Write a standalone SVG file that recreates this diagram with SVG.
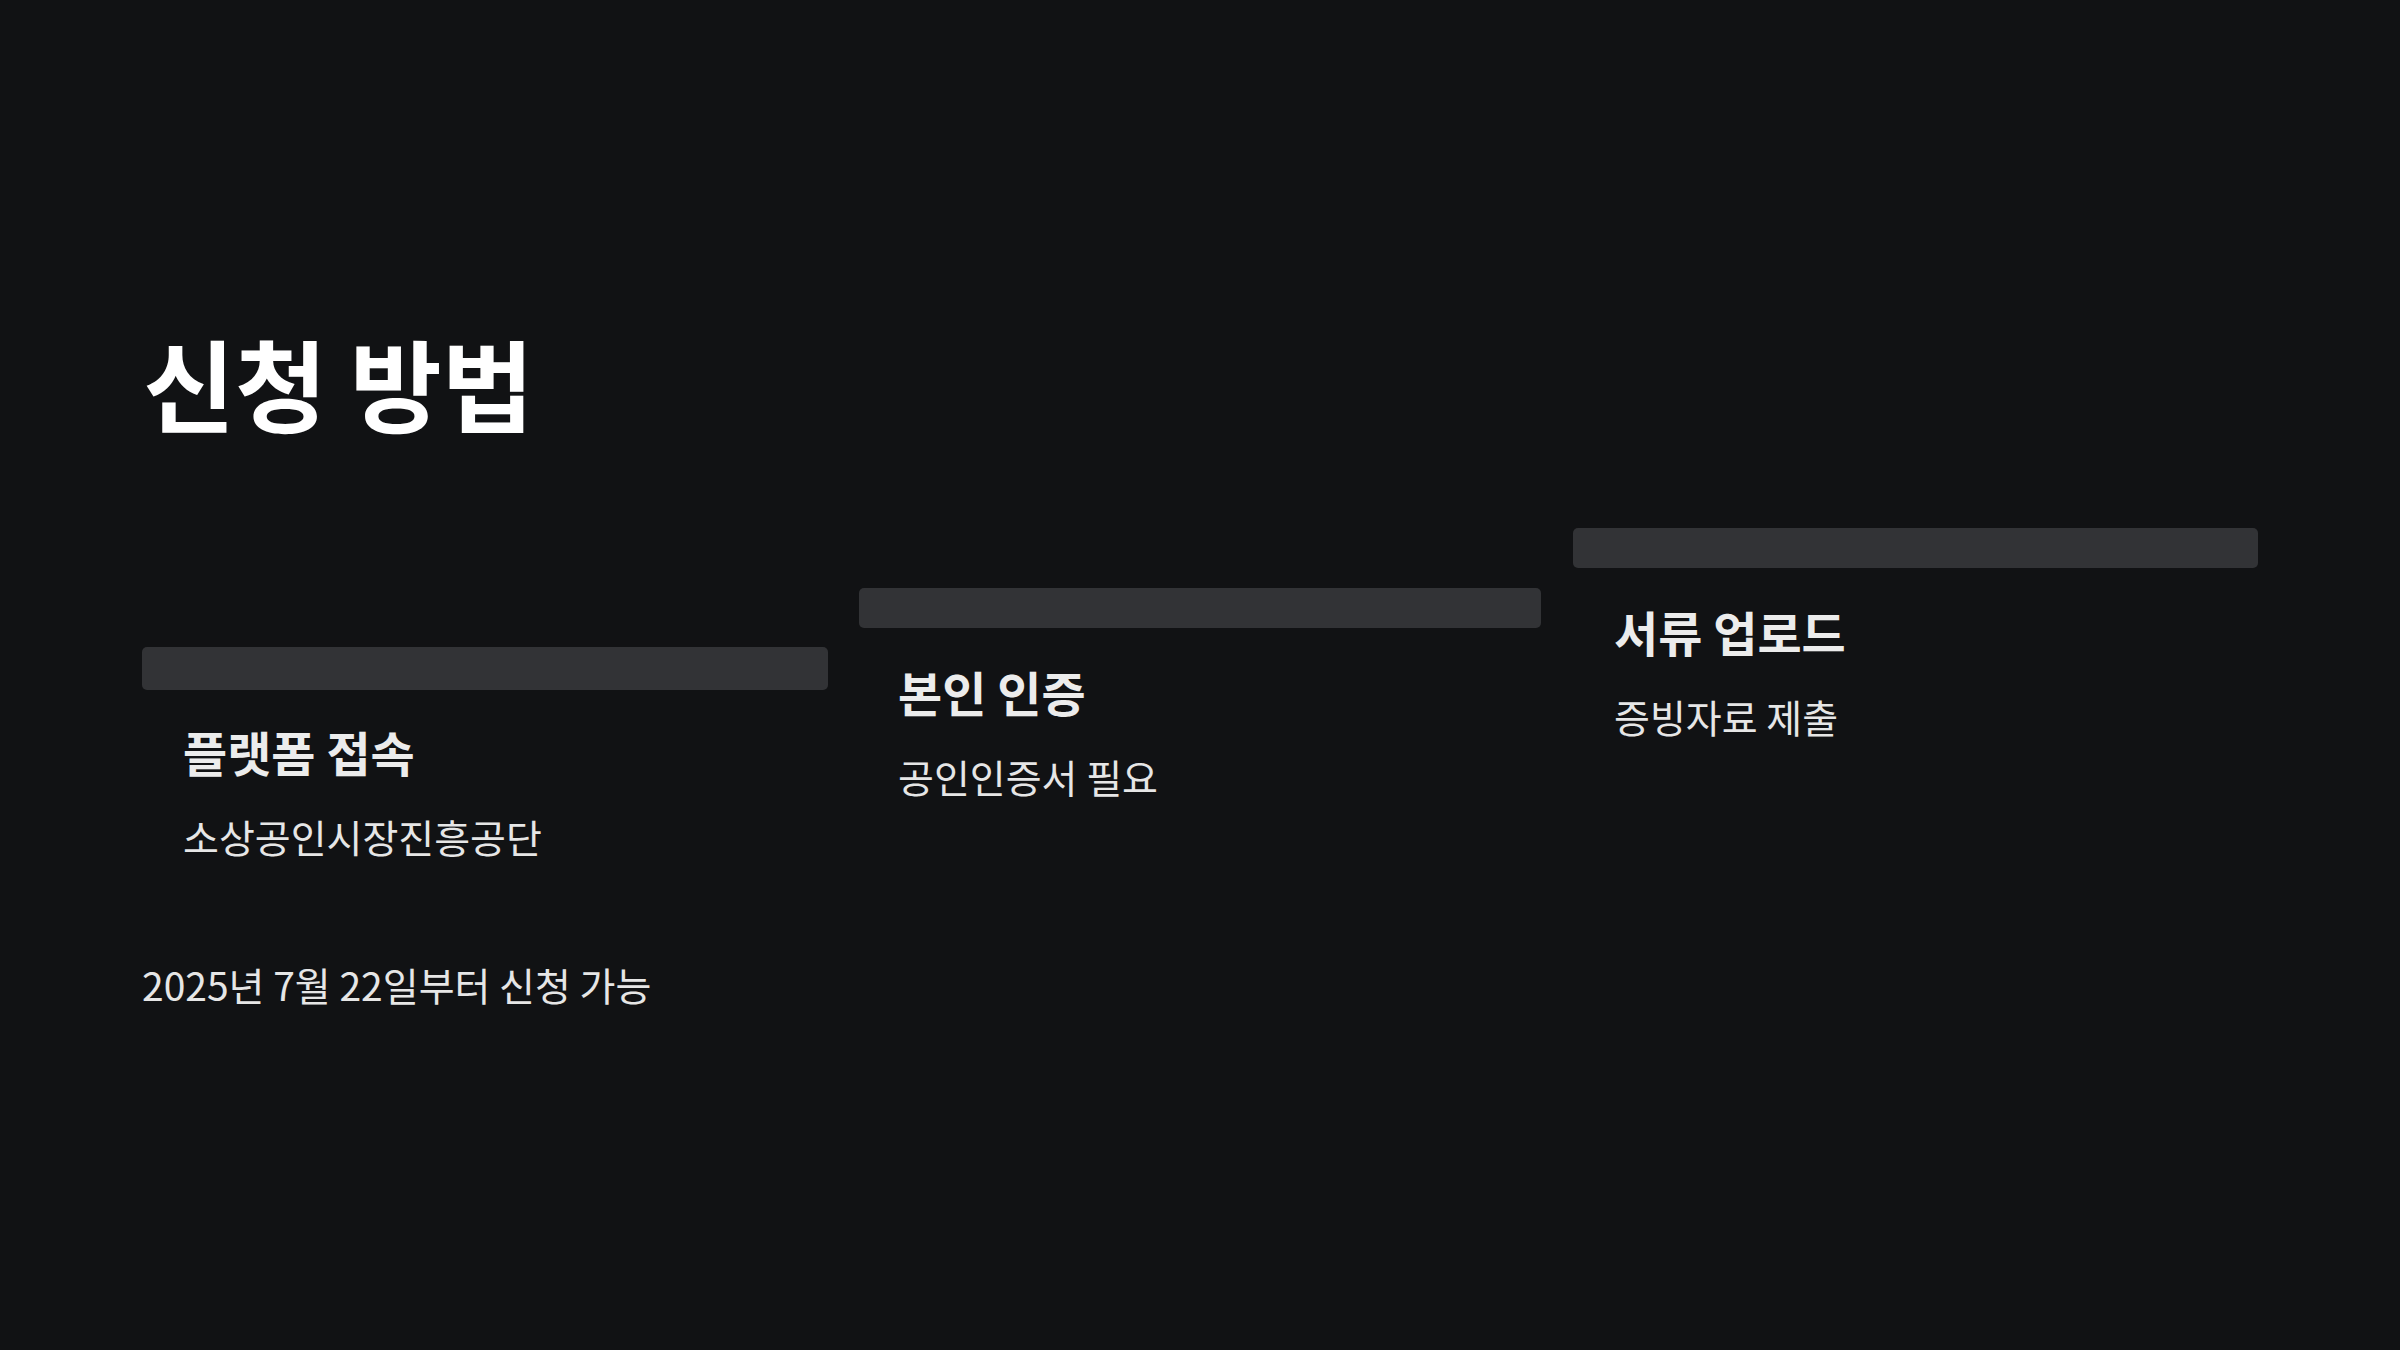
<svg xmlns="http://www.w3.org/2000/svg" width="2400" height="1350" viewBox="0 0 2400 1350">
<style>
text{font-family:"Noto Sans CJK KR","Noto Sans",sans-serif}
.bar{fill:#323336}
.h{fill:#ececec;font-size:48px;font-weight:700}
.s{fill:#e6e6e6;font-size:39px;font-weight:400}
</style>
<rect width="2400" height="1350" fill="#111214"/>
<text x="143" y="425" fill="#ffffff" font-size="100" font-weight="700" style="font-family:'Noto Sans CJK KR',sans-serif">신청 방법</text>
<g id="step1">
<rect class="bar" x="142" y="647" width="686" height="43" rx="5"/>
<text class="h" x="183" y="772">플랫폼 접속</text>
<text class="s" x="183" y="853">소상공인시장진흥공단</text>
</g>
<g id="step2">
<rect class="bar" x="859" y="588" width="682" height="40" rx="5"/>
<text class="h" x="898" y="712">본인 인증</text>
<text class="s" x="898" y="793">공인인증서 필요</text>
</g>
<g id="step3">
<rect class="bar" x="1573" y="528" width="685" height="40" rx="5"/>
<text class="h" x="1614" y="652">서류 업로드</text>
<text class="s" x="1614" y="733">증빙자료 제출</text>
</g>
<g id="connectors"/>
<text class="s" x="142" y="1001">2025년 7월 22일부터 신청 가능</text>
</svg>
